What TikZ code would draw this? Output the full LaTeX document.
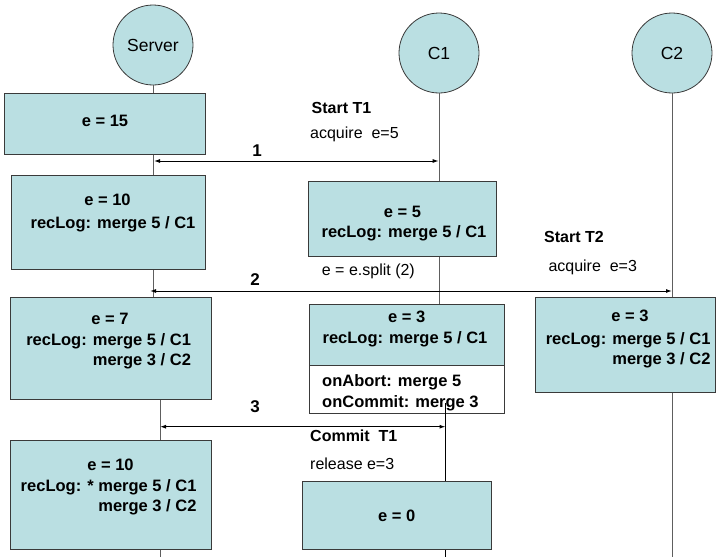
\documentclass[tikz,border=0pt]{standalone}
\usepackage{fontspec}
\setmainfont{Liberation Sans}
\usetikzlibrary{arrows.meta}
\definecolor{boxfill}{HTML}{BADFE2}
\definecolor{edgecol}{HTML}{3A3A3A}
\definecolor{lifecol}{HTML}{5E5E5E}
\begin{document}
\begin{tikzpicture}[x=1pt,y=-1pt,
  box/.style={rectangle, draw=edgecol, fill=boxfill, line width=0.9pt, inner sep=0pt},
  whitebox/.style={rectangle, draw=edgecol, fill=white, line width=0.9pt, inner sep=0pt},
  actor/.style={circle, draw=edgecol, fill=boxfill, line width=0.8pt, minimum size=80pt, inner sep=0pt, font=\fontsize{17.5}{20}\selectfont},
  bt/.style={font=\bfseries\fontsize{16.5}{20}\selectfont, inner sep=0pt, text height=11.8pt, text depth=0pt},
  lt/.style={font=\fontsize{16}{19}\selectfont, inner sep=0pt, anchor=west, text height=11.5pt, text depth=0pt},
  ht/.style={font=\bfseries\fontsize{16}{19}\selectfont, inner sep=0pt, anchor=west, text height=11.5pt, text depth=0pt},
  num/.style={font=\bfseries\fontsize{17}{19}\selectfont, inner sep=0pt, text height=12pt, text depth=0pt},
  lifeline/.style={draw=lifecol, line width=0.9pt},
  msg/.style={draw=black, line width=1pt, {Latex[length=6pt,width=4pt]}-{Latex[length=6pt,width=4pt]}},
]
\useasboundingbox (0,0) rectangle (716,557);
\coordinate (bot) at (0,557);

% actors
\node[actor] (srv) at (153,45) {Server};
\node[actor] (c1) at (439,53) {C1};
\node[actor] (c2) at (672,53) {C2};

\coordinate (sx) at (160,0);
\coordinate (cx) at (445.5,403);

% lifelines behind boxes
\draw[lifeline] (srv.south) -- (srv.south |- 0,297);
\draw[lifeline] (c1.south) -- (c1.south |- 0,304.3);
\draw[lifeline] (c2.south) -- (c2.south |- bot);
\draw[lifeline] (sx |- 0,399) -- (sx |- bot);

% server boxes
\node[box, minimum width=201pt, minimum height=61pt] (sb1) at (104.5,123.5) {};
\node[box, minimum width=194pt, minimum height=94pt] (sb2) at (108,222) {};
\node[box, minimum width=201pt, minimum height=102pt] (sb3) at (111.2,348) {};
\node[box, minimum width=201pt, minimum height=108.3pt] (sb4) at (111.2,494.9) {};

% client boxes
\node[box, minimum width=188pt, minimum height=74.3pt] (cb1) at (402.4,218.9) {};
\node[box, minimum width=195pt, minimum height=61pt] (cb2) at (406.5,334.8) {};
\node[whitebox, minimum width=195pt, minimum height=48pt] (cb2w) at (406.5,389.3) {};
\node[box, minimum width=189pt, minimum height=68pt] (cb3) at (396.5,515.3) {};
\node[box, minimum width=179.5pt, minimum height=95.4pt] (c2b) at (625.6,345) {};

\draw[draw=black, line width=0.9pt] (cx) -- (cx |- cb3.north);
\draw[draw=black, line width=0.9pt] (cx |- cb3.south) -- (cx |- bot);

% box texts
\node[bt] (t1) at (105,121) {e = 15};
\node[bt] (t2) at (107.5,200) {e = 10};
\node[bt] (t2b) at (113,223) {recLog: merge 5 / C1};
\node[bt] (t3) at (110,319) {e = 7};
\node[bt, anchor=east] (t3b) at (191.2,340) {recLog: merge 5 / C1};
\node[bt, anchor=east] (t3c) at (191.2,360) {merge 3 / C2};
\node[bt] (t4) at (110.5,465) {e = 10};
\node[bt, anchor=east] (t4b) at (196.7,485.7) {recLog: * merge 5 / C1};
\node[bt, anchor=east] (t4c) at (196.7,506) {merge 3 / C2};

\node[bt] (u1) at (402.5,211.7) {e = 5};
\node[bt] (u1b) at (404,232) {recLog: merge 5 / C1};
\node[bt] (u2) at (406.7,316.7) {e = 3};
\node[bt] (u2b) at (405,337.3) {recLog: merge 5 / C1};
\node[bt, anchor=west] (u2c) at (322,381) {onAbort: merge 5};
\node[bt, anchor=west] (u2d) at (322,402) {onCommit: merge 3};
\node[bt] (u3) at (396.7,516) {e = 0};

\node[bt] (v1) at (630,316) {e = 3};
\node[bt, anchor=east] (v1b) at (710.7,338.3) {recLog: merge 5 / C1};
\node[bt, anchor=east] (v1c) at (710.7,358.3) {merge 3 / C2};

% message arrows
\coordinate (a1l) at (154,161);
\coordinate (a1r) at (438.7,161);
\coordinate (a2l) at (150,291);
\coordinate (a2r) at (672,291);
\coordinate (a3l) at (160,426.7);
\coordinate (a3r) at (445.5,426.7);
\draw[msg] (a1l) -- (a1r);
\draw[msg] (a2l) -- (a2r);
\draw[msg] (a3l) -- (a3r);

\node[num] (n1) at (257,150) {1};
\node[num] (n2) at (255,279) {2};
\node[num] (n3) at (255,406) {3};

% side labels
\node[ht] (s1) at (311.5,108) {Start T1};
\node[lt] (s1b) at (310,133) {acquire\ \ e=5};
\node[ht] (s2) at (544,237) {Start T2};
\node[lt] (s2b) at (548.3,266) {acquire\ \ e=3};
\node[lt] (sp) at (321.7,270) {e = e.split (2)};
\node[ht] (s3) at (310,436) {Commit\ \ T1};
\node[lt] (s3b) at (310,464) {release e=3};
\end{tikzpicture}
\end{document}
